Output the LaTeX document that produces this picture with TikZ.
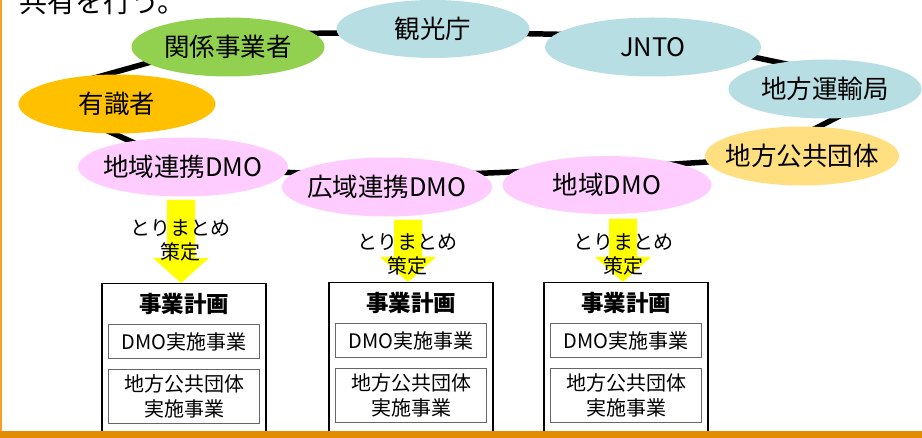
\documentclass[tikz,border=0pt]{standalone}
\usepackage{fontspec}
\setmainfont{Noto Sans CJK JP}
\usetikzlibrary{shapes.geometric,calc,backgrounds}

\definecolor{cgreen}{HTML}{92D050}
\definecolor{cgold}{HTML}{FFC000}
\definecolor{cpink}{HTML}{FFCCFF}
\definecolor{cblue}{HTML}{B7DEE3}
\definecolor{cpale}{HTML}{FFDF80}
\definecolor{cyel}{HTML}{FFFF00}
\definecolor{corange}{HTML}{E48B00}
\definecolor{cleft}{HTML}{F4A020}

\newcommand\yelarrow[2]{%
  \fill[cyel] ($(#1.north)+(-17,-#2)$) -- ($(#1.north)+(11,-#2)$) -- ($(#1.north)+(11,-25)$)
    -- ($(#1.north)+(25,-25)$) -- ($(#1.north)+(-3,0)$) -- ($(#1.north)+(-31,-25)$)
    -- ($(#1.north)+(-17,-25)$) -- cycle;}
\newcommand\zw[1]{\makebox[0pt]{#1}}

\begin{document}
\begin{tikzpicture}[x=1pt,y=-1pt,
  org/.style={ellipse,minimum height=59pt,inner sep=0pt,font=\fontsize{25.5}{30}\selectfont},
  ring/.style={line width=5.5pt,line join=round,black},
  planbox/.style={draw=black,line width=1.3pt,fill=white,minimum width=164pt,minimum height=149pt,anchor=north,inner sep=0pt},
  subbox/.style={draw=black!60,line width=0.9pt,minimum width=151pt,inner sep=0pt,align=center,font=\fontsize{20}{25}\selectfont},
  ttl/.style={font=\fontsize{22.5}{27}\selectfont\bfseries,inner sep=0pt},
  lbl/.style={align=center,inner sep=0pt,font=\fontsize{20}{24}\selectfont}]
\useasboundingbox (0,0) rectangle (922,438);

\begin{scope}
\clip (0,0) rectangle (922,438);
\node[anchor=base west,inner sep=0pt,font=\fontsize{28}{32}\selectfont] (top) at (19,13) {共有を行う。};
\end{scope}

% organisations
\node[org,fill=cgold,minimum width=197pt] (yu) at (117,104) {\zw{有識者}};
\node[org,fill=cgreen,minimum width=193pt] (kan) at (228,47) {\zw{関係事業者}};
\node[org,fill=cblue,minimum width=193pt,minimum height=58pt] (kk) at (433,29) {\zw{観光庁}};
\node[org,fill=cblue,minimum width=216pt] (jnto) at (653,47) {\zw{JNTO}};
\node[org,fill=cblue,minimum width=193pt] (unyu) at (825,89) {\zw{地方運輸局}};
\node[org,fill=cpale,minimum width=194pt] (kokyo) at (802,156) {\zw{地方公共団体}};
\node[org,fill=cpink,minimum width=209pt,minimum height=58pt] (dmo3) at (607,185) {\zw{地域DMO}};
\node[org,fill=cpink,minimum width=210pt] (dmo2) at (387,187) {\zw{広域連携DMO}};
\node[org,fill=cpink,minimum width=210pt] (dmo1) at (183,167) {\zw{地域連携DMO}};

\begin{pgfonlayer}{background}
\fill[white] (0,0) rectangle (922,438);
\draw[ring] ($(yu)+(-87,-8)$) -- ($(kan)+(23,-13)$) -- ($(kk)+(0,3)$) -- ($(jnto)+(0,-11)$)
  -- ($(unyu)+(71,-2)$) -- ($(kokyo)+(-46,3)$) -- ($(dmo3)+(3,-17)$) -- ($(dmo2)+(3,-10)$)
  -- ($(dmo1)+(7,1)$) -- cycle;
\end{pgfonlayer}

% plan boxes
\node[planbox] (b1) at (184,283) {};
\node[planbox] (b2) at (411,282) {};
\node[planbox] (b3) at (626,282) {};

\foreach \b in {b1,b2,b3}{
  \node[ttl] (\b t) at ($(\b.north)+(0,20.5)$) {事業計画};
  \node[subbox,minimum height=34pt] (\b d) at ($(\b.north)+(0,58.5)$) {DMO実施事業};
  \node[subbox,minimum height=54pt] (\b k) at ($(\b.north)+(0,113.5)$) {地方公共団体\\実施事業};
}

% arrows
\yelarrow{b1}{83}
\yelarrow{b2}{62}
\yelarrow{b3}{63}
\node[lbl] (l1) at ($(b1.north)+(-4,-43)$) {とりまとめ\\策定};
\node[lbl] (l2) at ($(b2.north)+(-4,-27.5)$) {とりまとめ\\策定};
\node[lbl] (l3) at ($(b3.north)+(-3,-27.5)$) {とりまとめ\\策定};

% frame
\fill[cleft] (0,0) rectangle (2,431);
\fill[corange] (0,431) rectangle (922,438);
\end{tikzpicture}
\end{document}
